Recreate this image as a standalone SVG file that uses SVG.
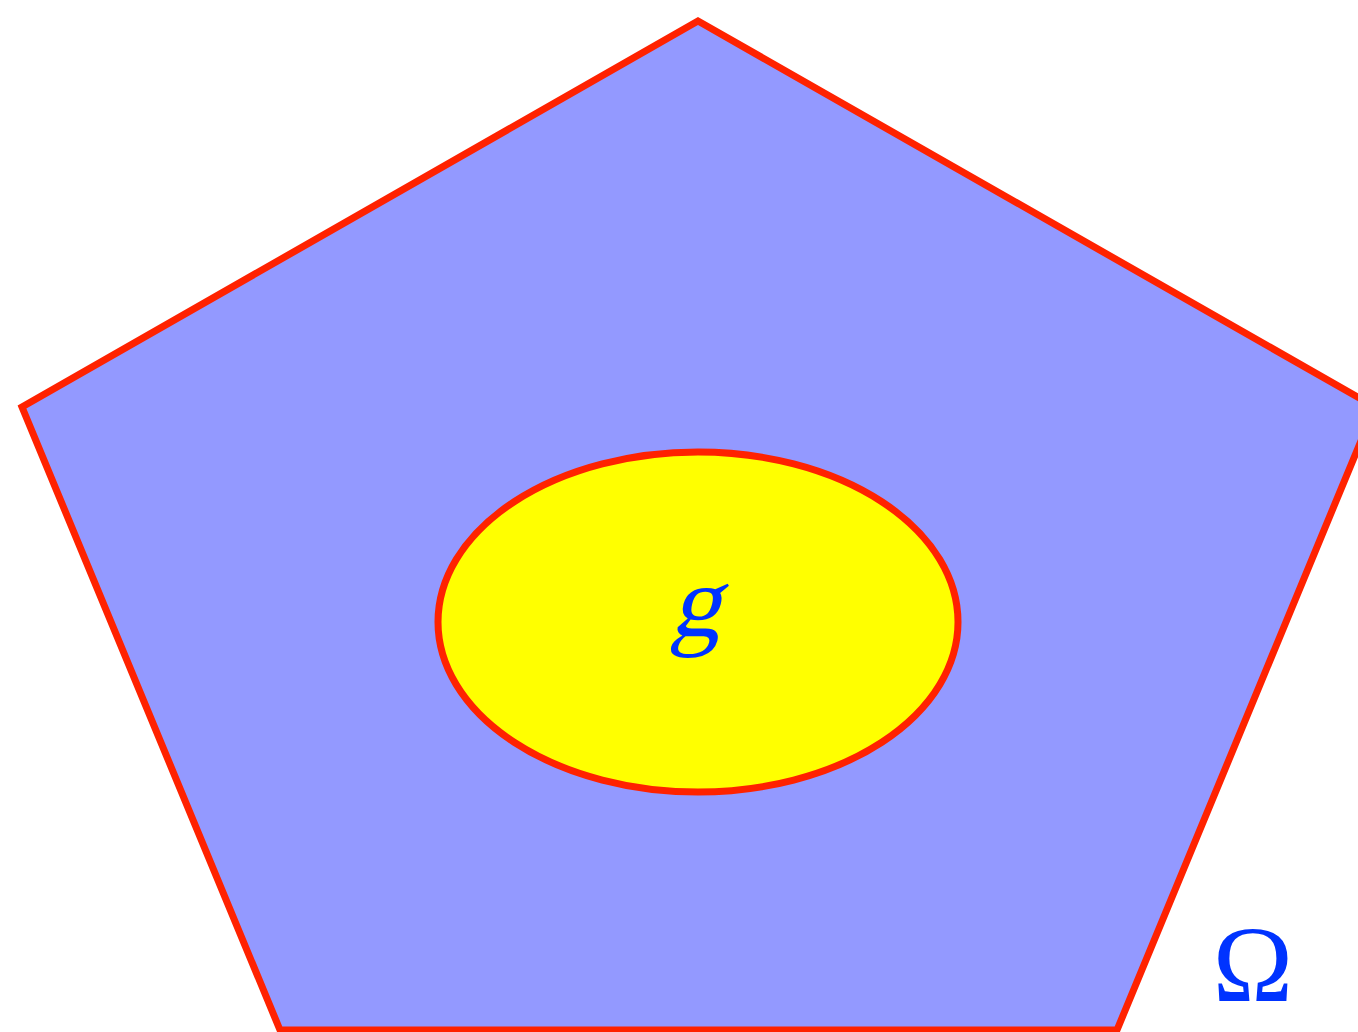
<svg xmlns="http://www.w3.org/2000/svg" width="1358" height="1032" viewBox="0 0 1358 1032">
<style>
.shape{stroke:#FF2200;stroke-width:7;stroke-linejoin:miter}
.lbl{font-family:"Liberation Serif","DejaVu Serif",serif;fill:#0033FF;text-anchor:middle}
</style>
<rect width="1358" height="1032" fill="#FFFFFF"/>
<g id="omega">
<polygon class="shape" fill="#9399FF" points="698,21 1375,407 1117,1030 280,1030 22,407"/>
<text class="lbl" x="1253" y="1001" font-size="108">Ω</text>
</g>
<g id="g-region">
<ellipse class="shape" fill="#FFFF00" cx="698" cy="622" rx="260" ry="170"/>
<text class="lbl" transform="translate(695,636) skewX(-14)" x="0" y="0" font-size="102">g</text>
</g>
<g id="connectors"></g>
</svg>
